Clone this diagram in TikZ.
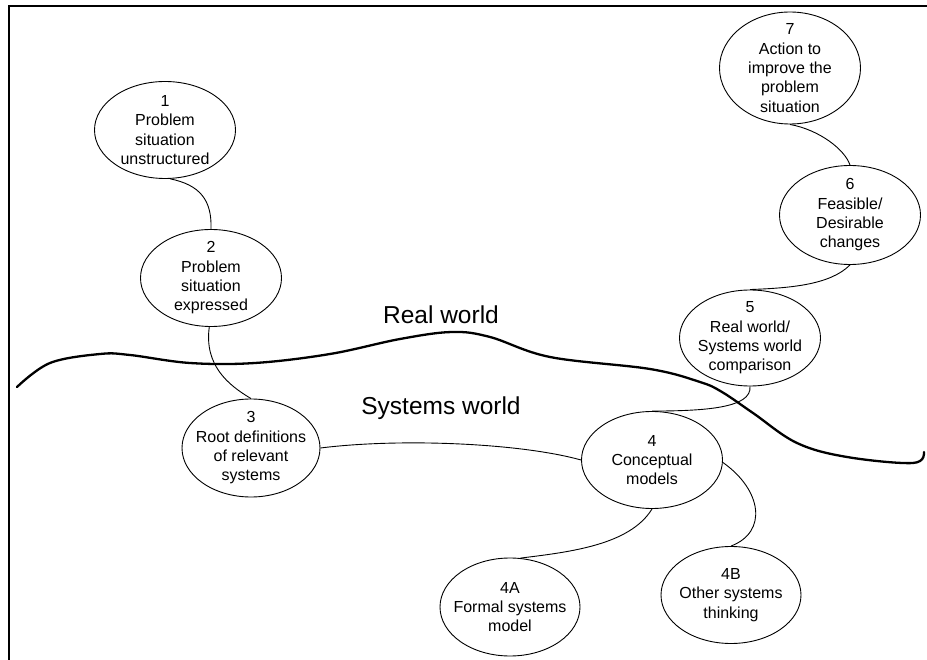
\documentclass[tikz,border=0pt]{standalone}
\usepackage{fontspec}
\setmainfont{Liberation Sans}
\usetikzlibrary{shapes.geometric}
\newcommand{\nodefnt}{\fontsize{16}{19.3}\selectfont}
\newcommand{\bigfnt}{\fontsize{24.5}{28}\selectfont}
\tikzset{
  ell/.style={ellipse, draw, line width=0.9pt, inner sep=0pt, minimum width=141pt, minimum height=97pt},
  txt/.style={align=center, font=\nodefnt, inner sep=0pt},
  conn/.style={line width=0.9pt},
  bound/.style={line width=2.3pt, line cap=round, line join=round},
  frame/.style={line width=2.3pt},
  world/.style={font=\bigfnt, inner sep=0pt}
}
\begin{document}
\begin{tikzpicture}[x=1pt,y=-1pt]
\useasboundingbox (0,0) rectangle (927,660);
% frame
\draw[frame] (9,660) -- (9,6) -- (927,6);
% boundary line
\draw[bound] plot[smooth, tension=0.6] coordinates {(17,387) (50,363) (100,354) (130,355) (190,363) (255,363) (330,354) (400,339) (452,332) (490,337) (550,357) (650,369) (700,382) (722,392) (753,413) (797,443) (847,457) (913,463) (924,452)};
% labels
\node[world] (rw) at (441,315) {Real world};
\node[world] (sw) at (441,408) {Systems world};
% ellipses
\node[ell] (n1) at (165,130) {};
\node[txt] at (n1) {1\\Problem\\situation\\unstructured};
\node[ell] (n2) at (211,278) {};
\node[txt] at (n2) {2\\Problem\\situation\\expressed};
\node[ell, minimum width=138pt, minimum height=98pt] (n3) at (251,448) {};
\node[txt] at (n3) {3\\Root definitions\\of relevant\\systems};
\node[ell] (n4) at (652,460) {};
\node[txt] at (n4) {4\\Conceptual\\models};
\node[ell, minimum width=140pt, minimum height=98pt] (n4a) at (510,607) {};
\node[txt] at (n4a) {4A\\Formal systems\\model};
\node[ell, minimum width=140pt] (n4b) at (731,595) {};
\node[txt] at (n4b) {4B\\Other systems\\thinking};
\node[ell, minimum height=96pt] (n5) at (750,338) {};
\node[txt] at (n5) {5\\Real world/\\Systems world\\comparison};
\node[ell, minimum height=99pt] (n6) at (850,215) {};
\node[txt] at (n6) {6\\Feasible/\\Desirable\\changes};
\node[ell, minimum width=141pt, minimum height=112pt] (n7) at (790,68) {};
\node[txt] at (n7) {7\\Action to\\improve the\\problem\\situation};
% connectors
\draw[conn] (n1.-84) .. controls (200,185) and (212,200) .. (n2.90);
\draw[conn] (n2.-92) .. controls (204,365) and (228,385) .. (n3.90);
\draw[conn] (n3.0) .. controls (400,438) and (520,443) .. (n4.180);
\draw[conn] (n5.-90) .. controls (752,408) and (705,411) .. (n4.90);
\draw[conn] (n6.-90) .. controls (830,285) and (790,288) .. (n5.90);
\draw[conn] (n7.-90) .. controls (820,130) and (845,150) .. (n6.90);
\draw[conn] (n4.-90) .. controls (630,545) and (570,552) .. (n4a.78);
\draw[conn] (n4.-2) .. controls (762,490) and (768,532) .. (n4b.90);
\end{tikzpicture}
\end{document}
